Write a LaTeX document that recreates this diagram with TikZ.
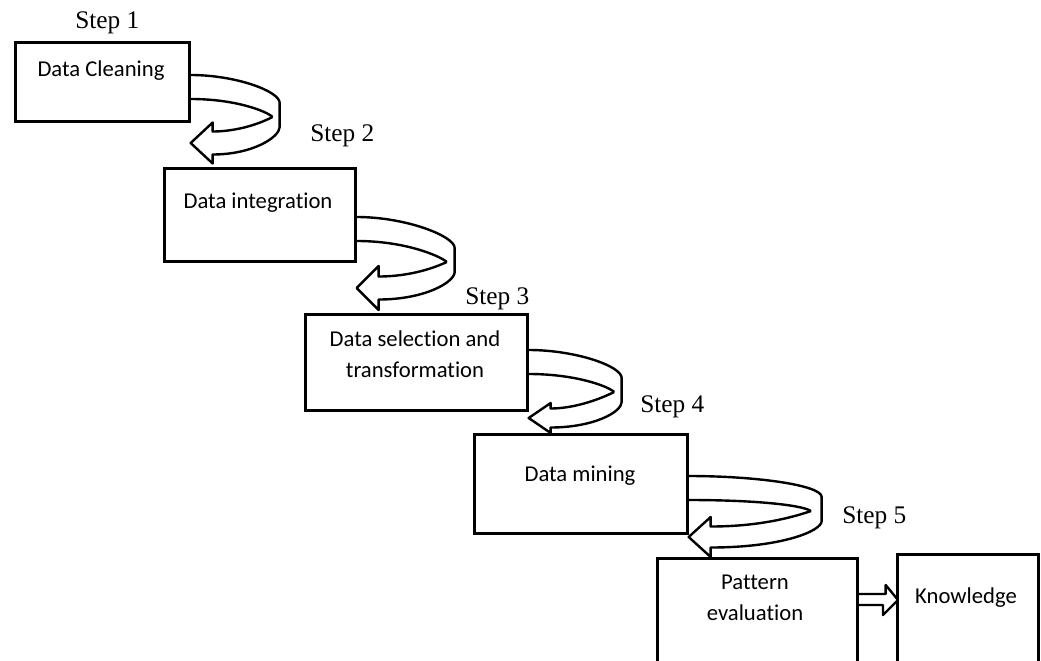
\documentclass[tikz,border=0pt]{standalone}
\usepackage{fontspec}
\setmainfont{Liberation Serif}
\newfontfamily\boxfont[Ligatures={NoCommon}]{Carlito}
\usetikzlibrary{calc}
\def\px{0.75pt}
\tikzset{
  box/.style={draw, line width=2pt, inner sep=0pt, anchor=north west},
  boxtext/.style={font=\boxfont\fontsize{17}{23}\selectfont, align=center, inner sep=0pt, anchor=base},
  steplabel/.style={font=\fontsize{19}{22}\selectfont, inner sep=0pt, anchor=base west},
  ribbon/.style={line width=1.8pt, line join=round},
  % looping ribbon arrow: #1 width, #2 tip depth, #3 half head, #4 half shaft
  pics/looparrow/.style n args={4}{code={
    \draw[ribbon] (0,0) .. controls ({0.5*#1},0) and (#1,{#2-52}) .. (#1,{#2-40})
      -- (#1,{#2-16}) .. controls (#1,{#2-6}) and ({0.7*#1},{#2+#4}) .. (22,{#2+#4})
      -- (22,{#2+#3}) -- (0,#2) -- (22,{#2-#3}) -- (22,{#2-#4})
      .. controls ({0.45*#1},{#2-#4}) and ({0.7*#1},{#2-16}) .. ({0.92*#1},{#2-26});
    \draw[ribbon] (0,24) .. controls ({0.5*#1},24) and ({0.85*#1},{#2-32}) .. ({0.92*#1},{#2-26});
  }}
}
\begin{document}
\begin{tikzpicture}[x=\px, y=-\px]
\clip (0,0) rectangle (1041,660);
\fill[white] (0,0) rectangle (1041,660);

% process boxes
\node[box, minimum width=174*\px, minimum height=79*\px] (b1) at (14,41) {};
\node[box, minimum width=191*\px, minimum height=93*\px] (b2) at (163,167) {};
\node[box, minimum width=222*\px, minimum height=96*\px] (b3) at (304,313) {};
\node[box, minimum width=213*\px, minimum height=99*\px] (b4) at (473,433) {};
\node[box, minimum width=200*\px, minimum height=150*\px] (b5) at (656,557) {};
\node[box, minimum width=141*\px, minimum height=150*\px] (k) at (896,553) {};

% box texts (base anchor sits on the last line)
\node[boxtext] (t1) at (101,76) {Data Cleaning};
\node[boxtext] (t2) at (258,208) {Data integration};
\node[boxtext] (t3) at (415,377) {Data selection and\\transformation};
\node[boxtext] (t4) at (580,481) {Data mining};
\node[boxtext] (t5) at (755,620) {Pattern\\evaluation};
\node[boxtext] (tk) at (966,603) {Knowledge};

% step labels
\node[steplabel] (s1) at (75,29) {Step 1};
\node[steplabel] (s2) at (310,141) {Step 2};
\node[steplabel] (s3) at (465,304) {Step 3};
\node[steplabel] (s4) at (640,412) {Step 4};
\node[steplabel] (s5) at (842,523) {Step 5};

% looping arrows between consecutive steps
\pic at ($(b1.north east)+(0,34)$) {looparrow={89}{68}{20.5}{11.5}};
\pic at ($(b2.north east)+(0,50)$) {looparrow={98}{71}{22}{11.5}};
\pic at ($(b3.north east)+(0,37)$) {looparrow={93}{68}{15}{9.5}};
\pic at ($(b4.north east)+(0,43)$) {looparrow={133}{61}{20}{10.5}};

% open block arrow to knowledge
\coordinate (ka) at (b5.east |- 0,594);
\coordinate (kb) at (b5.east |- 0,605);
\coordinate (kt) at (k.west |- 0,600);
\draw[ribbon] (ka) -- ++(27,0) -- ++(0,-9) -- ($(kt)+(2,0)$) -- ++(-15,15) -- ++(0,-10) -- (kb);
\end{tikzpicture}
\end{document}
